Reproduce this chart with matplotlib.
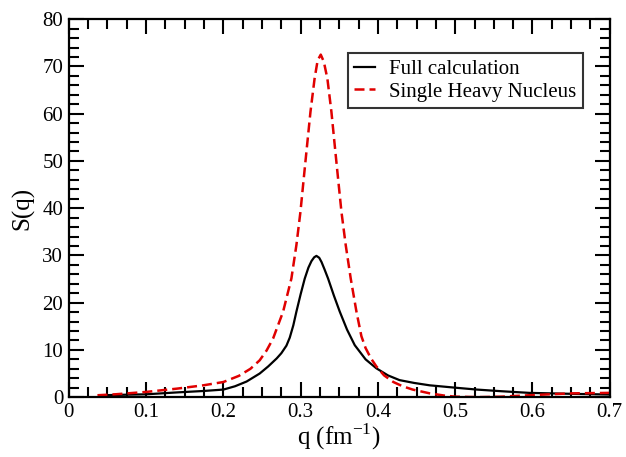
import matplotlib
matplotlib.use("Agg")
import matplotlib.pyplot as plt
from matplotlib.ticker import MultipleLocator

plt.rcParams['font.family'] = ['Liberation Serif', 'DejaVu Serif']
plt.rcParams['mathtext.fontset'] = 'custom'
plt.rcParams['mathtext.rm'] = 'Liberation Serif'

# Full calculation (black, solid)
q_full = [0.044, 0.07, 0.1, 0.14, 0.174, 0.2, 0.215, 0.23, 0.247, 0.258, 0.269,
          0.275, 0.2816, 0.2859, 0.2905, 0.2945, 0.300, 0.3053, 0.310, 0.314,
          0.3175, 0.3204, 0.324, 0.327, 0.331, 0.3355, 0.343, 0.3506, 0.360,
          0.370, 0.384, 0.398, 0.413, 0.428, 0.447, 0.467, 0.50, 0.528, 0.56,
          0.596, 0.65, 0.7]
s_full = [0.4, 0.5, 0.6, 1.0, 1.3, 1.6, 2.3, 3.3, 5.0, 6.5, 8.2,
          9.3, 10.9, 12.6, 15.2, 18.1, 21.8, 25.1, 27.4, 28.8,
          29.6, 29.9, 29.5, 28.6, 27.0, 25.1, 21.5, 18.1, 14.3,
          11.0, 8.0, 6.1, 4.6, 3.6, 3.0, 2.5, 2.0, 1.6, 1.25,
          0.9, 0.7, 0.55]

# Single heavy nucleus (red, dashed)
q_single = [0.037, 0.06, 0.1, 0.14, 0.174, 0.2, 0.22, 0.235, 0.247, 0.256,
            0.2643, 0.2773, 0.288, 0.2945, 0.2997, 0.304, 0.3083, 0.3127,
            0.318, 0.322, 0.326, 0.330, 0.3346, 0.3398, 0.3441, 0.3484,
            0.3528, 0.3583, 0.3648, 0.3722, 0.3786, 0.384, 0.391, 0.398,
            0.408, 0.420, 0.432, 0.445, 0.467, 0.485, 0.50, 0.53, 0.56,
            0.596, 0.65, 0.7]
s_single = [0.4, 0.6, 1.1, 1.8, 2.5, 3.2, 4.5, 6.0, 7.8, 9.9,
            12.4, 18.1, 25.1, 32.2, 39.2, 46.3, 53.3, 60.4,
            67.4, 71.3, 72.5, 71.0, 67.4, 60.4, 53.3, 46.3,
            39.2, 32.2, 25.1, 18.1, 12.9, 10.4, 8.2, 6.5,
            4.6, 3.2, 2.3, 1.6, 0.8, 0.35, 0.1, 0.0, 0.1,
            0.4, 0.8, 0.9]

fig = plt.figure(figsize=(6.26, 4.57), dpi=100)
ax = fig.add_axes([0.110, 0.131, 0.864, 0.827])

ax.plot(q_full, s_full, color='black', lw=1.6, label='Full calculation')
ax.plot(q_single, s_single, color='#e00000', lw=1.8, dashes=(4, 2),
        label='Single Heavy Nucleus')

ax.set_xlim(0, 0.7)
ax.set_ylim(0, 80)
ax.set_xticks([0, 0.1, 0.2, 0.3, 0.4, 0.5, 0.6, 0.7])
ax.set_xticklabels(['0', '0.1', '0.2', '0.3', '0.4', '0.5', '0.6', '0.7'])
ax.xaxis.set_minor_locator(MultipleLocator(0.025))
ax.yaxis.set_major_locator(MultipleLocator(10))
ax.yaxis.set_minor_locator(MultipleLocator(2))

ax.tick_params(which='both', direction='in', top=True, right=True,
               width=1.5, labelsize=15)
ax.tick_params(which='major', length=11, pad=4)
ax.tick_params(which='minor', length=7)
for sp in ax.spines.values():
    sp.set_linewidth(1.6)

ax.set_xlabel(r'q (fm$^{\mathregular{-1}}$)', fontsize=18, labelpad=0)
ax.set_ylabel('S(q)', fontsize=18, labelpad=6)

leg = ax.legend(loc='upper right', bbox_to_anchor=(0.950, 0.910), fontsize=15,
                frameon=True, fancybox=False, edgecolor='black',
                handlelength=1.0, handletextpad=0.7, borderpad=0.3,
                labelspacing=0.15, borderaxespad=0)
leg.get_frame().set_linewidth(1.5)

fig.savefig('out.png', dpi=100)
